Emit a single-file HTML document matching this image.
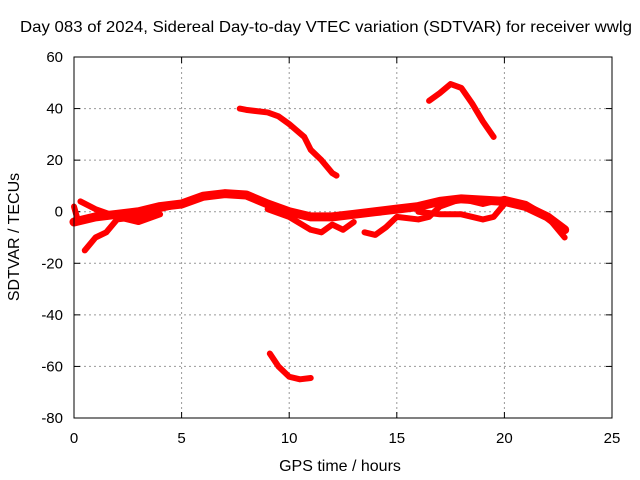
<!DOCTYPE html>
<html><head><meta charset="utf-8"><style>
body{margin:0;background:#fff;}
svg{display:block;font-family:"Liberation Sans",sans-serif;}
</style></head><body>
<svg id="chart" width="640" height="480">
<text x="20" y="32" font-size="16" textLength="612" lengthAdjust="spacingAndGlyphs">Day 083 of 2024, Sidereal Day-to-day VTEC variation (SDTVAR) for receiver wwlg</text>
<text x="340" y="471" font-size="16" text-anchor="middle">GPS time / hours</text>
<text transform="translate(19,237) rotate(-90)" font-size="16" text-anchor="middle">SDTVAR / TECUs</text>
<g id="grid"></g><g id="ticks"></g><g id="marks"></g>
<rect x="74" y="57" width="538" height="361" fill="none" stroke="#000" stroke-width="1"/>
</svg>
<script>
const xTicks=[0,5,10,15,20,25];
const yTicks=[60,40,20,0,-20,-40,-60,-80];
const trackMain=[[0,-4],[1,-2],[2,-1],[3,0],[4,2],[5,3],[6,6],[7,7],[8,6.5],[9,3],[10,0],[11,-2],[12,-2],[13,-1],[14,0],[15,1],[16,2],[17,4],[18,5],[19,4.5],[20,4],[21,2],[22,-2],[22.8,-7]];
const trackB=[[0.5,-15],[1,-10],[1.5,-8],[2,-3],[3,-2],[4,1],[5,3]];
const trackC=[[0.3,4],[1,1],[2,-2],[3,-4],[4,-1]];
const trackD=[[9,1],[10,-2],[11,-7],[11.5,-8],[12,-5],[12.5,-7],[13,-4]];
const trackE=[[13.5,-8],[14,-9],[14.5,-6],[15,-2],[16,-3],[16.5,-2],[17,2],[18,5],[19,3],[20,5],[21,3],[22,-2],[22.8,-10]];
const trackF=[[16,0],[17,-1],[18,-1],[19,-3],[19.5,-2],[20,3]];
const trackG=[[0,2],[0.2,-4]];
const trackH=[[7.7,40],[8,39.5],[9,38.5],[9.5,37],[10,34],[10.7,29],[11,24],[11.5,20],[12,15],[12.2,14]];
const trackI=[[16.5,43],[17,46],[17.5,49.5],[18,48],[18.5,42],[19,35],[19.5,29]];
const trackJ=[[9.1,-55],[9.5,-60],[10,-64],[10.5,-65],[11,-64.5]];
const tracks=[trackMain,trackB,trackC,trackD,trackE,trackF,trackG,trackH,trackI,trackJ];
const widths=[9,6,6,6,6,6,6,6,6,6];
const X=h=>74+h*538/25, Y=v=>57+(60-v)*361/140;
const NS="http://www.w3.org/2000/svg";
function mk(t,a,p){const e=document.createElementNS(NS,t);for(const k in a)e.setAttribute(k,a[k]);p.appendChild(e);return e;}
const grid=document.getElementById('grid'),ticks=document.getElementById('ticks'),marks=document.getElementById('marks');
xTicks.forEach(t=>{
 if(t>0&&t<25){const g=mk('line',{x1:X(t),x2:X(t),y1:57,y2:418,stroke:'#999','stroke-dasharray':'2,3'},grid);
 
 }
 mk('line',{x1:X(t),x2:X(t),y1:418,y2:412,stroke:'#000'},ticks);
 mk('line',{x1:X(t),x2:X(t),y1:57,y2:63,stroke:'#000'},ticks);
 const l=mk('text',{x:X(t),y:443,'font-size':15,'text-anchor':'middle'},ticks);l.textContent=t;
 
 
});
yTicks.forEach(t=>{
 if(t<60&&t>-80){const g=mk('line',{x1:74,x2:612,y1:Y(t),y2:Y(t),stroke:'#999','stroke-dasharray':'2,3'},grid);
 
 }
 mk('line',{x1:74,x2:80,y1:Y(t),y2:Y(t),stroke:'#000'},ticks);
 mk('line',{x1:612,x2:606,y1:Y(t),y2:Y(t),stroke:'#000'},ticks);
 const l=mk('text',{x:63,y:Y(t)+5,'font-size':15,'text-anchor':'end'},ticks);l.textContent=t;
 
 
});
tracks.forEach((tr,i)=>{
 const p=mk('polyline',{points:tr.map(d=>X(d[0])+','+Y(d[1])).join(' '),fill:'none',stroke:'#f00','stroke-width':widths[i],'stroke-linejoin':'round','stroke-linecap':'round'},marks);
 
 
});
</script>
</body></html>
